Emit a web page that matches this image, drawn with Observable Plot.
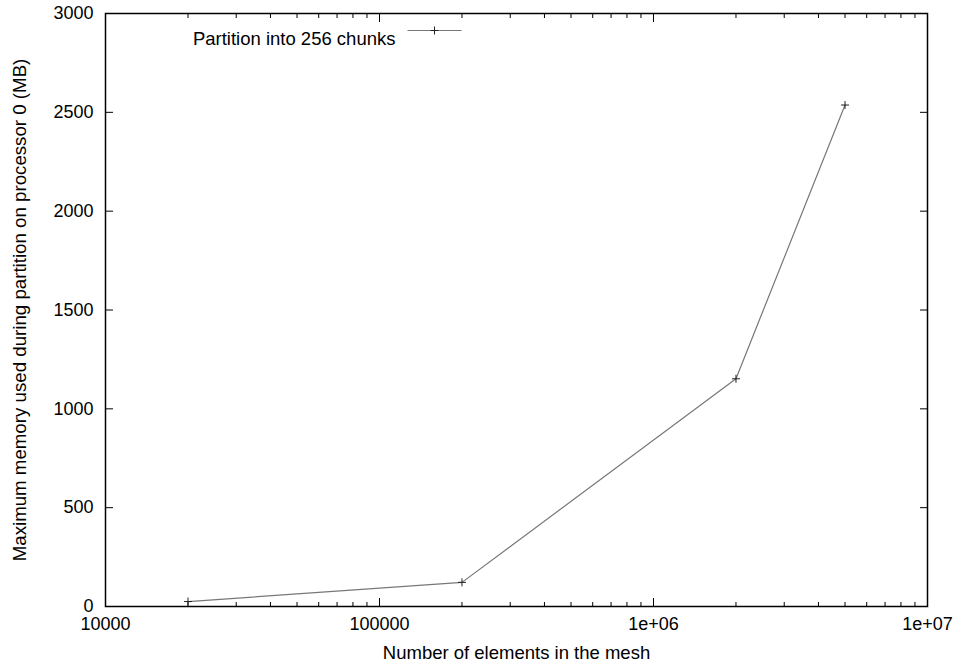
<!DOCTYPE html>
<html>
<head>
<meta charset="utf-8">
<script src="https://cdn.jsdelivr.net/npm/d3@7"></script>
<script src="https://cdn.jsdelivr.net/npm/@observablehq/plot@0.6"></script>
<style>
  html, body { margin: 0; padding: 0; background: white; }
</style>
</head>
<body>
<div id="chart"></div>
<script>
const elements = [20000, 200000, 2000000, 5000000];
const memoryMB = [25, 122, 1152, 2537];
const seriesLabel = "Partition into 256 chunks";
const xMajorTicks = [1e4, 1e5, 1e6, 1e7];
const xTickLabels = ["10000", "100000", "1e+06", "1e+07"];
const xMinorTicks = [
  2e4, 3e4, 4e4, 5e4, 6e4, 7e4, 8e4, 9e4,
  2e5, 3e5, 4e5, 5e5, 6e5, 7e5, 8e5, 9e5,
  2e6, 3e6, 4e6, 5e6, 6e6, 7e6, 8e6, 9e6
];
const yTicks = [0, 500, 1000, 1500, 2000, 2500, 3000];
const xLabel = "Number of elements in the mesh";
const yLabel = "Maximum memory used during partition on processor 0 (MB)";

const data = elements.map((x, i) => ({x, y: memoryMB[i]}));

const plusSymbol = {
  draw(ctx) {
    const r = 4;
    ctx.moveTo(-r, 0); ctx.lineTo(r, 0);
    ctx.moveTo(0, -r); ctx.lineTo(0, r);
  }
};
const legendLineSymbol = {
  draw(ctx) {
    ctx.moveTo(-27, 0); ctx.lineTo(27, 0);
  }
};

const noText = () => "";

const chart = Plot.plot({
  width: 959,
  height: 664,
  marginLeft: 105,
  marginRight: 32,
  marginTop: 13,
  marginBottom: 58,
  style: {fontFamily: "'Liberation Sans', Arial, Helvetica, sans-serif", fontSize: "18px", background: "white", color: "black"},
  x: {type: "log", domain: [1e4, 1e7]},
  y: {domain: [0, 3000]},
  marks: [
    Plot.axisX({anchor: "bottom", ticks: xMajorTicks, tickSize: -8, tickPadding: 19,
      tickFormat: d => xTickLabels[xMajorTicks.indexOf(d)], label: null, fontSize: 18}),
    Plot.axisX({anchor: "bottom", ticks: xMinorTicks, tickSize: -4, tickPadding: 0, tickFormat: noText, label: null}),
    Plot.axisX({anchor: "top", ticks: xMajorTicks, tickSize: -8, tickPadding: 0, tickFormat: noText, label: null}),
    Plot.axisX({anchor: "top", ticks: xMinorTicks, tickSize: -4, tickPadding: 0, tickFormat: noText, label: null}),
    Plot.axisY({anchor: "left", ticks: yTicks, tickSize: -8, tickPadding: 20, tickFormat: d => String(d), label: null, fontSize: 18}),
    Plot.axisY({anchor: "right", ticks: yTicks, tickSize: -8, tickPadding: 0, tickFormat: noText, label: null}),
    Plot.line(data, {x: "x", y: "y", stroke: "#777", strokeWidth: 1.2}),
    Plot.dot(data, {x: "x", y: "y", symbol: plusSymbol, r: 4, fill: "none", stroke: "#222", strokeWidth: 1}),
    Plot.text([seriesLabel], {frameAnchor: "top-left", text: d => d, textAnchor: "end", dx: 290, dy: 18, fontSize: 18.5}),
    Plot.dot([seriesLabel], {frameAnchor: "top-left", symbol: legendLineSymbol, r: 4, fill: "none", stroke: "#777", strokeWidth: 1.2, dx: 329, dy: 17}),
    Plot.dot([seriesLabel], {frameAnchor: "top-left", symbol: plusSymbol, r: 4, fill: "none", stroke: "#222", strokeWidth: 1, dx: 329, dy: 17}),
    Plot.text([xLabel], {frameAnchor: "bottom", text: d => d, lineAnchor: "top", dy: 39, fontSize: 18.5}),
    Plot.text([yLabel], {frameAnchor: "left", text: d => d, rotate: -90, textAnchor: "middle", lineAnchor: "top", dx: -93, fontSize: 18.7}),
    Plot.frame({stroke: "black", strokeWidth: 1.5})
  ]
});
document.getElementById("chart").appendChild(chart);
</script>
</body>
</html>
